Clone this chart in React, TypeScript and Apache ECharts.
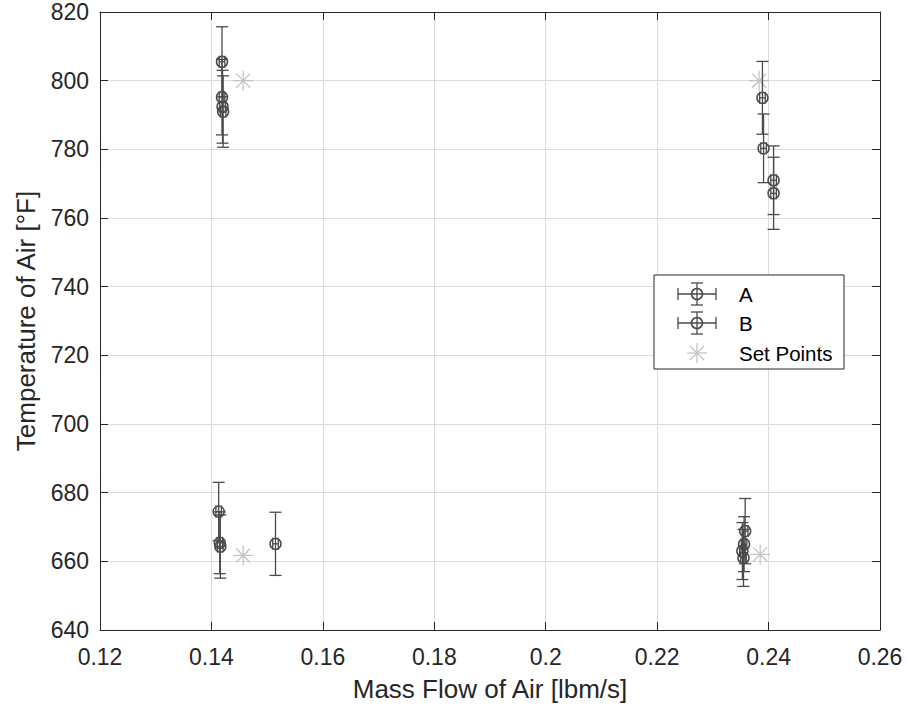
import React, { useEffect, useRef } from "react";
import * as echarts from "echarts";

// ---- data ----
// [mass flow, temperature, x error, y error]
const seriesA: number[][] = [
  [0.1419, 805.5, 0.0005, 10.2],
  [0.1419, 795.2, 0.0005, 11.0],
  [0.2389, 795.0, 0.0005, 10.6],
  [0.2391, 780.3, 0.0005, 10.0],
  [0.1413, 674.5, 0.0005, 8.5],
  [0.1415, 665.4, 0.0005, 9.0],
  [0.2358, 668.8, 0.0005, 9.5],
  [0.2356, 665.0, 0.0005, 8.0],
];
const seriesB: number[][] = [
  [0.142, 792.4, 0.0005, 10.6],
  [0.1421, 791.0, 0.0005, 10.4],
  [0.2409, 771.0, 0.0005, 10.0],
  [0.2409, 767.2, 0.0005, 10.5],
  [0.1416, 664.3, 0.0005, 9.2],
  [0.1515, 665.1, 0.0005, 9.2],
  [0.2353, 663.0, 0.0005, 8.3],
  [0.2355, 661.0, 0.0005, 8.3],
];
const setPointsX: number[] = [0.1457, 0.2383, 0.1457, 0.2385];
const setPointsY: number[] = [800, 800, 661.7, 662];

const xTickLabels: string[] = ["0.12", "0.14", "0.16", "0.18", "0.2", "0.22", "0.24", "0.26"];
const yTickLabels: string[] = ["640", "660", "680", "700", "720", "740", "760", "780", "800", "820"];
const X_MIN = 0.12, X_MAX = 0.26, X_INT = 0.02;
const Y_MIN = 640, Y_MAX = 820, Y_INT = 20;

const legendNames: string[] = ["A", "B", "Set Points"];

const BAR_COLOR = "#4a4a4a";
const STAR_COLOR = "#c4c4c4";
const AXIS_COLOR = "#262626";
const FONT = "'Liberation Sans', Arial, Helvetica, sans-serif";

function errRender(color: string) {
  return (params: any, api: any) => {
    const x = api.value(0), y = api.value(1), ex = api.value(2), ey = api.value(3);
    const c = api.coord([x, y]);
    const top = api.coord([x, y + ey]);
    const bot = api.coord([x, y - ey]);
    const lft = api.coord([x - ex, y]);
    const rgt = api.coord([x + ex, y]);
    const cap = 6;
    const st = { stroke: color, lineWidth: 1.3 };
    const line = (x1: number, y1: number, x2: number, y2: number) => ({
      type: "line",
      shape: { x1, y1, x2, y2 },
      style: st,
    });
    return {
      type: "group",
      children: [
        line(top[0], top[1], bot[0], bot[1]),
        line(top[0] - cap, top[1], top[0] + cap, top[1]),
        line(bot[0] - cap, bot[1], bot[0] + cap, bot[1]),
        line(lft[0], lft[1], rgt[0], rgt[1]),
        line(lft[0], lft[1] - cap, lft[0], lft[1] + cap),
        line(rgt[0], rgt[1] - cap, rgt[0], rgt[1] + cap),
        {
          type: "circle",
          shape: { cx: c[0], cy: c[1], r: 5.5 },
          style: { stroke: color, fill: "transparent", lineWidth: 1.5 },
        },
      ],
    };
  };
}

function starRender(params: any, api: any) {
  const c = api.coord([api.value(0), api.value(1)]);
  const r = 10;
  const st = { stroke: STAR_COLOR, lineWidth: 1.3 };
  const children: any[] = [];
  for (let k = 0; k < 4; k++) {
    const a = (k * Math.PI) / 4;
    children.push({
      type: "line",
      shape: {
        x1: c[0] - r * Math.cos(a),
        y1: c[1] - r * Math.sin(a),
        x2: c[0] + r * Math.cos(a),
        y2: c[1] + r * Math.sin(a),
      },
      style: st,
    });
  }
  return { type: "group", children };
}

function legendGraphic() {
  const bx = 654, by = 275, bw = 190, bh = 94;
  const rows = [294, 323, 353];
  const iconX = 697;
  const els: any[] = [
    {
      type: "rect",
      shape: { x: bx, y: by, width: bw, height: bh },
      style: { fill: "#ffffff", stroke: AXIS_COLOR, lineWidth: 1 },
      z: 100,
    },
  ];
  const st = { stroke: BAR_COLOR, lineWidth: 1.3 };
  for (let i = 0; i < 2; i++) {
    const cy = rows[i];
    const l = (x1: number, y1: number, x2: number, y2: number) => ({
      type: "line",
      shape: { x1, y1, x2, y2 },
      style: st,
      z: 101,
    });
    els.push(
      l(iconX - 19, cy, iconX + 19, cy),
      l(iconX - 19, cy - 6, iconX - 19, cy + 6),
      l(iconX + 19, cy - 6, iconX + 19, cy + 6),
      l(iconX, cy - 11, iconX, cy + 11),
      l(iconX - 6, cy - 11, iconX + 6, cy - 11),
      l(iconX - 6, cy + 11, iconX + 6, cy + 11),
      {
        type: "circle",
        shape: { cx: iconX, cy, r: 5.5 },
        style: { stroke: BAR_COLOR, fill: "transparent", lineWidth: 1.5 },
        z: 101,
      }
    );
  }
  {
    const cy = rows[2];
    const r = 10;
    for (let k = 0; k < 4; k++) {
      const a = (k * Math.PI) / 4;
      els.push({
        type: "line",
        shape: {
          x1: iconX - r * Math.cos(a),
          y1: cy - r * Math.sin(a),
          x2: iconX + r * Math.cos(a),
          y2: cy + r * Math.sin(a),
        },
        style: { stroke: STAR_COLOR, lineWidth: 1.3 },
        z: 101,
      });
    }
  }
  legendNames.forEach((name, i) => {
    els.push({
      type: "text",
      x: 739,
      y: rows[i],
      style: {
        text: name,
        fill: "#000000",
        font: `20.5px ${FONT}`,
        verticalAlign: "middle",
        align: "left",
      },
      z: 101,
    });
  });
  return els;
}

export default function App() {
  const ref = useRef<HTMLDivElement>(null);
  useEffect(() => {
    if (!ref.current) return;
    const chart = echarts.init(ref.current, null, { renderer: "svg" });
    const xFmt = (v: number) => xTickLabels[Math.round((v - X_MIN) / X_INT)] ?? "";
    const yFmt = (v: number) => yTickLabels[Math.round((v - Y_MIN) / Y_INT)] ?? "";
    const axisCommon = {
      type: "value",
      axisLine: { show: true, lineStyle: { color: AXIS_COLOR, width: 1 } },
      axisTick: { show: true, inside: true, length: 8, lineStyle: { color: AXIS_COLOR } },
    };
    chart.setOption({
      animation: false,
      backgroundColor: "#ffffff",
      textStyle: { fontFamily: FONT },
      grid: { left: 100, top: 12, right: 29, bottom: 80, containLabel: false },
      xAxis: [
        {
          ...axisCommon,
          min: X_MIN,
          max: X_MAX,
          interval: X_INT,
          name: "Mass Flow of Air [lbm/s]",
          nameLocation: "middle",
          nameGap: 46,
          nameTextStyle: { fontSize: 26, color: AXIS_COLOR, fontFamily: FONT },
          axisLabel: { formatter: xFmt, fontSize: 23, color: AXIS_COLOR, margin: 15, fontFamily: FONT },
          splitLine: { show: true, lineStyle: { color: "#dcdcdc", width: 1 } },
        },
        {
          ...axisCommon,
          position: "top",
          min: X_MIN,
          max: X_MAX,
          interval: X_INT,
          axisLabel: { show: false },
          splitLine: { show: false },
        },
      ],
      yAxis: [
        {
          ...axisCommon,
          min: Y_MIN,
          max: Y_MAX,
          interval: Y_INT,
          name: "Temperature of Air [°F]",
          nameLocation: "middle",
          nameGap: 61,
          nameTextStyle: { fontSize: 26, color: AXIS_COLOR, fontFamily: FONT },
          axisLabel: { formatter: yFmt, fontSize: 23, color: AXIS_COLOR, margin: 11, fontFamily: FONT },
          splitLine: { show: true, lineStyle: { color: "#dcdcdc", width: 1 } },
        },
        {
          ...axisCommon,
          position: "right",
          min: Y_MIN,
          max: Y_MAX,
          interval: Y_INT,
          axisLabel: { show: false },
          splitLine: { show: false },
        },
      ],
      series: [
        {
          name: "Set Points",
          type: "custom",
          renderItem: starRender,
          data: setPointsX.map((x, i) => [x, setPointsY[i]]),
          z: 2,
        },
        {
          name: "A",
          type: "custom",
          renderItem: errRender(BAR_COLOR),
          data: seriesA,
          z: 3,
        },
        {
          name: "B",
          type: "custom",
          renderItem: errRender(BAR_COLOR),
          data: seriesB,
          z: 3,
        },
      ],
      graphic: legendGraphic(),
    });
    return () => chart.dispose();
  }, []);
  return (
    <div
      ref={ref}
      style={{ position: "fixed", left: 0, top: 0, width: 909, height: 710, background: "#ffffff" }}
    />
  );
}
